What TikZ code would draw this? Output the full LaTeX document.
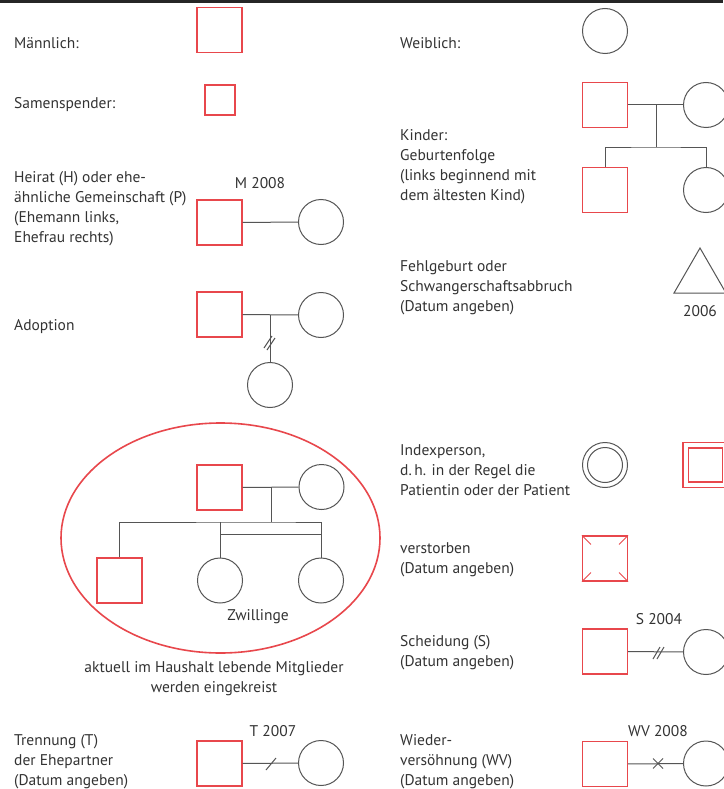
\documentclass[tikz,border=0pt]{standalone}
\usepackage{fontspec}
\setmainfont{PT Sans}
\usetikzlibrary{shapes.geometric}
\definecolor{rd}{HTML}{E8474C}
\definecolor{ln}{HTML}{555555}
\definecolor{tx}{HTML}{333333}
\begin{document}
\begin{tikzpicture}[x=1pt,y=-1pt,
 male/.style={draw=rd, line width=1.1pt, rectangle, minimum size=45pt, inner sep=0pt},
 female/.style={draw=ln, line width=1pt, circle, minimum size=45pt, inner sep=0pt},
 link/.style={draw=ln, line width=1pt},
 lbl/.style={anchor=west, align=left, text=tx, font=\fontsize{15.5}{20}\selectfont, inner sep=0pt},
 yr/.style={text=tx, font=\fontsize{15.5}{20}\selectfont, inner sep=0pt}]
\fill[white] (0,0) rectangle (723,789);
\useasboundingbox (0,0) rectangle (723,789);
\draw[line width=3pt, black!85] (0,1.5) -- (723,1.5);

% Maennlich / Weiblich
\node[lbl] (tm) at (14,43) {Männlich:};
\node[male] (m1) at (219.5,30) {};
\node[lbl] (tw) at (400,43) {Weiblich:};
\node[female] (f1) at (605,31) {};

% Samenspender
\node[lbl] (ts) at (14,105) {Samenspender:};
\node[male, minimum size=30pt] (sp) at (220,100) {};

% Kinder
\node[lbl] (tk) at (400,167) {Kinder:\\Geburtenfolge\\(links beginnend mit\\dem ältesten Kind)};
\node[male] (kv) at (605,105) {};
\node[female] (km) at (706,105) {};
\draw[link] (kv) -- (km);
\coordinate (kj) at (656,105);
\coordinate (kb) at (656,147);
\node[male] (ks) at (605,190) {};
\node[female] (kt) at (706,190) {};
\draw[link] (kj) -- (kb);
\draw[link] (ks.north) |- (kb) -| (kt.north);

% Heirat
\node[lbl] (th) at (14,209) {Heirat (H) oder ehe-\\ähnliche Gemeinschaft (P)\\(Ehemann links,\\Ehefrau rechts)};
\node[male] (hm) at (219.5,222.5) {};
\node[female] (hf) at (321,222) {};
\draw[link] (hm) -- (hf);
\node[yr] (hy) at (260,183) {M 2008};

% Adoption
\node[lbl] (ta) at (14,327) {Adoption};
\node[male] (am) at (219.5,314.5) {};
\node[female] (af) at (321,315) {};
\draw[link] (am) -- (af);
\coordinate (aj) at (270,315);
\node[female] (ac) at (270,385) {};
\draw[link] (aj) -- (ac.north);
\coordinate (as) at (270,342);
\draw[link] ([shift={(-6,6)}]as) -- ([shift={(2,-6)}]as);
\draw[link] ([shift={(-3,8)}]as) -- ([shift={(5,-4)}]as);

% Fehlgeburt
\node[lbl] (tf) at (400,288) {Fehlgeburt oder\\Schwangerschaftsabbruch\\(Datum angeben)};
\node[draw=ln, line width=1pt, regular polygon, regular polygon sides=3, minimum size=60pt, inner sep=0pt] (tri) at (700,278) {};
\node[yr] (ty) at (700,311) {2006};

% Familie im Kreis
\node[draw=rd, line width=1.6pt, ellipse, minimum width=319pt, minimum height=230pt, inner sep=0pt] (ell) at (220.5,538) {};
\node[male] (em) at (219.5,487.5) {};
\node[female] (ef) at (321.5,487) {};
\draw[link] (em) -- (ef);
\coordinate (ej) at (271,487);
\coordinate (eb) at (271,522);
\coordinate (tb) at (0,534);
\node[male] (es) at (119.5,580.5) {};
\node[female] (et1) at (220,580.5) {};
\node[female] (et2) at (321,580.5) {};
\draw[link] (ej) -- (eb);
\draw[link] (es.north) |- (eb) -| (et2.north);
\draw[link] (et1.north) -- (et1.north |- eb);
\draw[link] (et1.north |- tb) -- (et2.north |- tb);
\node[yr] (zw) at (258,617) {Zwillinge};
\node[yr, align=center] (cap) at (214,679) {aktuell im Haushalt lebende Mitglieder\\werden eingekreist};

% Indexperson
\node[lbl] (ti) at (400,470) {Indexperson,\\d.\,h. in der Regel die\\Patientin oder der Patient};
\node[female] (ic) at (605,465) {};
\node[female, minimum size=35pt] (ic2) at (605,465) {};
\node[male] (is) at (705.5,465) {};
\node[male, minimum size=34pt] (is2) at (705.5,465) {};

% verstorben
\node[lbl] (tv) at (400,560) {verstorben\\(Datum angeben)};
\node[male] (vs) at (605,558.5) {};
\draw[draw=rd, line width=1pt] (vs.north west) -- ++(9,9);
\draw[draw=rd, line width=1pt] (vs.north east) -- ++(-9,9);
\draw[draw=rd, line width=1pt] (vs.south west) -- ++(9,-9);
\draw[draw=rd, line width=1pt] (vs.south east) -- ++(-9,-9);

% Scheidung
\node[lbl] (tsd) at (400,653) {Scheidung (S)\\(Datum angeben)};
\node[male] (sm) at (605,651.5) {};
\node[female] (sf) at (706,652) {};
\draw[link] (sm) -- (sf);
\coordinate (ss) at (659,652);
\draw[link] ([shift={(-6,7)}]ss) -- ([shift={(1,-5)}]ss);
\draw[link] ([shift={(-2,7)}]ss) -- ([shift={(5,-5)}]ss);
\node[yr] (sy) at (659,619) {S 2004};

% Wiederversoehnung
\node[lbl] (twv) at (400,762) {Wieder-\\versöhnung (WV)\\(Datum angeben)};
\node[male] (wm) at (605,764) {};
\node[female] (wf) at (706,763.5) {};
\draw[link] (wm) -- (wf);
\coordinate (wx) at (658,763.5);
\draw[link] ([shift={(-5,-5)}]wx) -- ([shift={(5,5)}]wx);
\draw[link] ([shift={(-5,5)}]wx) -- ([shift={(5,-5)}]wx);
\node[yr] (wy) at (658,731) {WV 2008};

% Trennung
\node[lbl] (tt) at (14,762) {Trennung (T)\\der Ehepartner\\(Datum angeben)};
\node[male] (tm2) at (219.5,763.5) {};
\node[female] (tf2) at (321,763) {};
\draw[link] (tm2) -- (tf2);
\coordinate (tsl) at (271,764);
\draw[link] ([shift={(-5,6)}]tsl) -- ([shift={(5,-6)}]tsl);
\node[yr] (ty2) at (273,731) {T 2007};
\end{tikzpicture}
\end{document}
